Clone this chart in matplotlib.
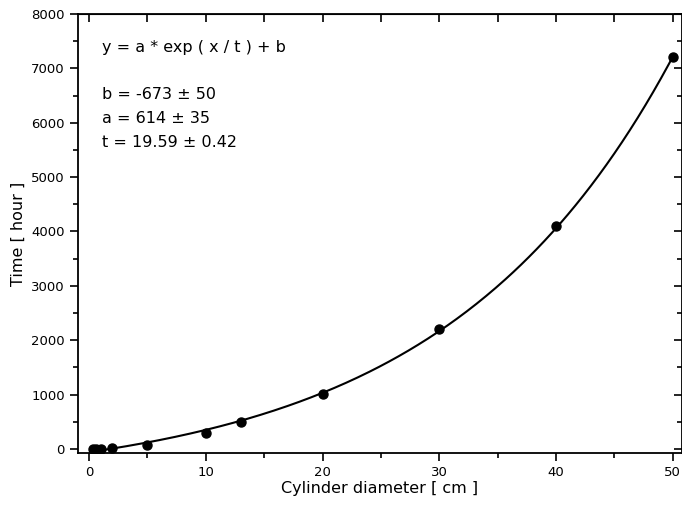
import numpy as np
from matplotlib import pyplot as plt
from matplotlib.ticker import MultipleLocator

# measured points
diam = [0.3, 0.6, 1, 2, 5, 10, 13, 20, 30, 40, 50]  # cm
hours = [0, 0, 0, 18, 74, 298, 490, 1008, 2200, 4100, 7205]

# fit y = a*exp(x/t) + b
a, b, t = 614, -673, 19.59
fit_text = "y = a * exp ( x / t ) + b\n\nb = -673 \u00b1 50\na = 614 \u00b1 35\nt = 19.59 \u00b1 0.42"

fig = plt.figure(figsize=(6.82, 5.08), dpi=100)
ax = fig.add_axes([0.1144, 0.1083, 0.8856, 0.8642])

xs = np.linspace(0.2, 50, 300)
ax.plot(xs, a * np.exp(xs / t) + b, 'k-', lw=1.5)
ax.plot(diam, hours, 'ko', ms=6.5)

ax.set_xlim(-0.95, 50.8)
ax.set_ylim(-75, 8000)
ax.xaxis.set_major_locator(MultipleLocator(10))
ax.xaxis.set_minor_locator(MultipleLocator(5))
ax.yaxis.set_major_locator(MultipleLocator(1000))
ax.yaxis.set_minor_locator(MultipleLocator(500))

for s in ax.spines.values():
    s.set_linewidth(1.3)
ax.tick_params(which='major', direction='out', length=6, width=1.2, labelsize=9.5)
ax.tick_params(which='minor', direction='out', length=3.5, width=1.2)

# inward ticks on top and right
top = ax.secondary_xaxis('top')
top.xaxis.set_major_locator(MultipleLocator(5))
top.tick_params(direction='in', length=6, width=1.2, labeltop=False)
right = ax.secondary_yaxis('right')
right.yaxis.set_major_locator(MultipleLocator(1000))
right.yaxis.set_minor_locator(MultipleLocator(500))
right.tick_params(which='major', direction='in', length=6, width=1.2, labelright=False)
right.tick_params(which='minor', direction='in', length=3.5, width=1.2)

ax.set_xlabel('Cylinder diameter [ cm ]', fontsize=11.5, labelpad=1)
ax.set_ylabel('Time [ hour ]', fontsize=11.5, labelpad=4)

ax.text(0.04, 0.9405, fit_text, transform=ax.transAxes, fontsize=11.5,
        va='top', ha='left', linespacing=1.72)

fig.savefig('out.png', dpi=100)
